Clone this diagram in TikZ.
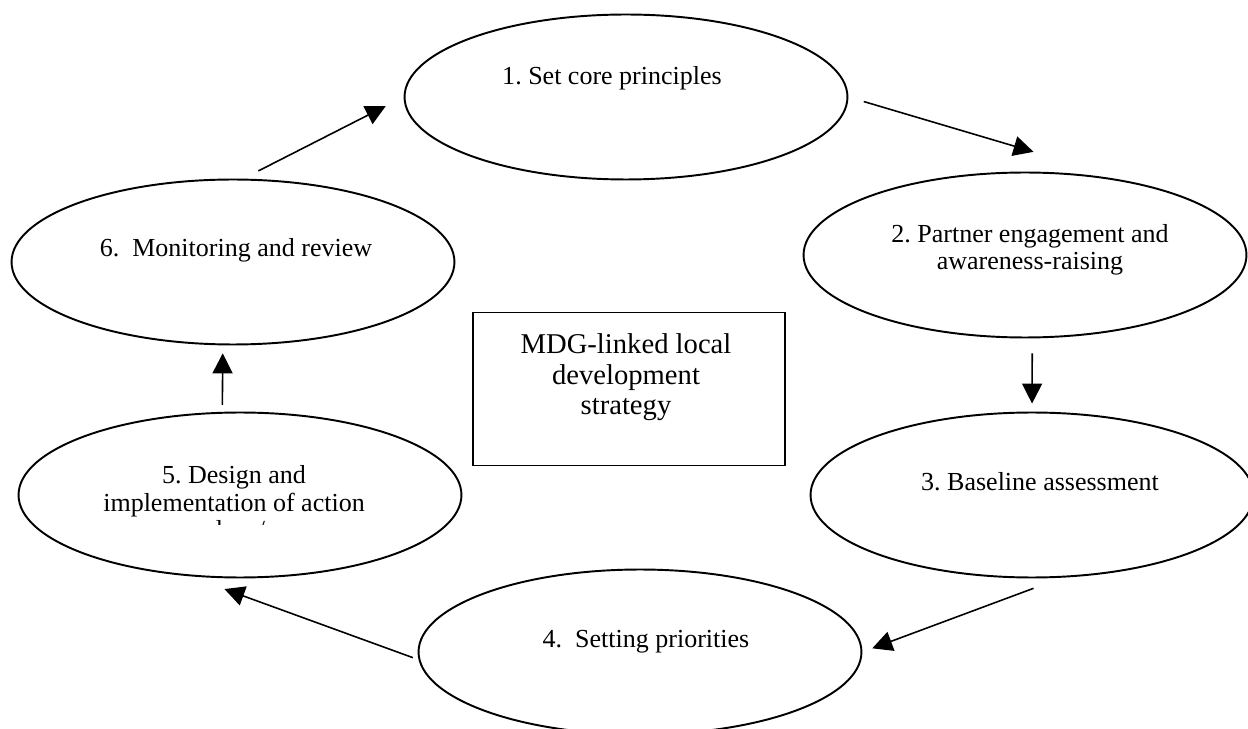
\documentclass[tikz,border=0pt]{standalone}
\usepackage{fontspec}
\setmainfont{Liberation Serif}
\usepackage{tikz}
\usetikzlibrary{shapes}
\usetikzlibrary{arrows.meta}
\tikzset{
stage/.style={
  ellipse,
  inner sep=0pt,
  minimum width=8.86cm,
  minimum height=3.3cm,
  line width=1.1pt,
  draw=black
  },
hub/.style={
  rectangle,
  inner sep=0pt,
  minimum width=6.24cm,
  minimum height=3.06cm,
  line width=1.1pt,
  draw=black
  },
lbl/.style={
  inner sep=0pt,
  anchor=base,
  align=center,
  font=\fontsize{14.8}{15.9}\selectfont
  }
}

\begin{document}
\frenchspacing
\begin{tikzpicture}[x=0.02cm,y=-0.02cm,->,>={Triangle[length=0.4cm,width=0.4cm]},line width=0.9pt]
            \useasboundingbox (0,0) rectangle (1248,729);
            \node[stage] (s1) at (626,97) {};
            \node[stage] (s2) at (1025,255) {};
            \node[stage] (s3) at (1032,495) {};
            \node[stage] (s4) at (640,652) {};
            \node[stage] (s5) at (240,495) {};
            \node[stage] (s6) at (233,262) {};
            \node[hub] (hub) at (629,389) {};
            % texts sit high in their shapes (base = last line)
            \node[lbl] (t1) at (612,85) {1. Set core principles};
            \node[lbl] (t2) at (1030,270) {2. Partner engagement and\\awareness-raising};
            \node[lbl] (t3) at (1040,491) {3. Baseline assessment};
            \node[lbl] (t4) at (646,647) {4.\ \ Setting priorities};
            \begin{scope}
            \clip (0,400) rectangle (470,525);
            \node[lbl] (t5) at (234,539) {5. Design and\\implementation of action\\plans/};
            \end{scope}
            \node[lbl] (t6) at (236,257) {6.\ \ Monitoring and review};
            \node[lbl,font=\fontsize{16.3}{17.6}\selectfont] (th) at (626,415) {MDG-linked local\\development\\strategy};
            \path[->]
            (s6.83) edge [shorten <=0.34cm,shorten >=0.4cm] (s1.west)
            (s1.east) edge [shorten <=0.32cm,shorten >=2.28cm] (s2.31)
            (s2.275) edge [shorten <=0.3cm,shorten >=0.16cm] (s3.north)
            (s3.290) edge [shorten <=0.61cm,shorten >=0.21cm] (s4.east)
            (s4.182) edge [shorten <=0.12cm,shorten >=0.75cm] (s5.238)
            (s5.102) edge [shorten <=0.14cm,shorten >=0.16cm] (s6.263)
            ;
        \end{tikzpicture}
\end{document}
